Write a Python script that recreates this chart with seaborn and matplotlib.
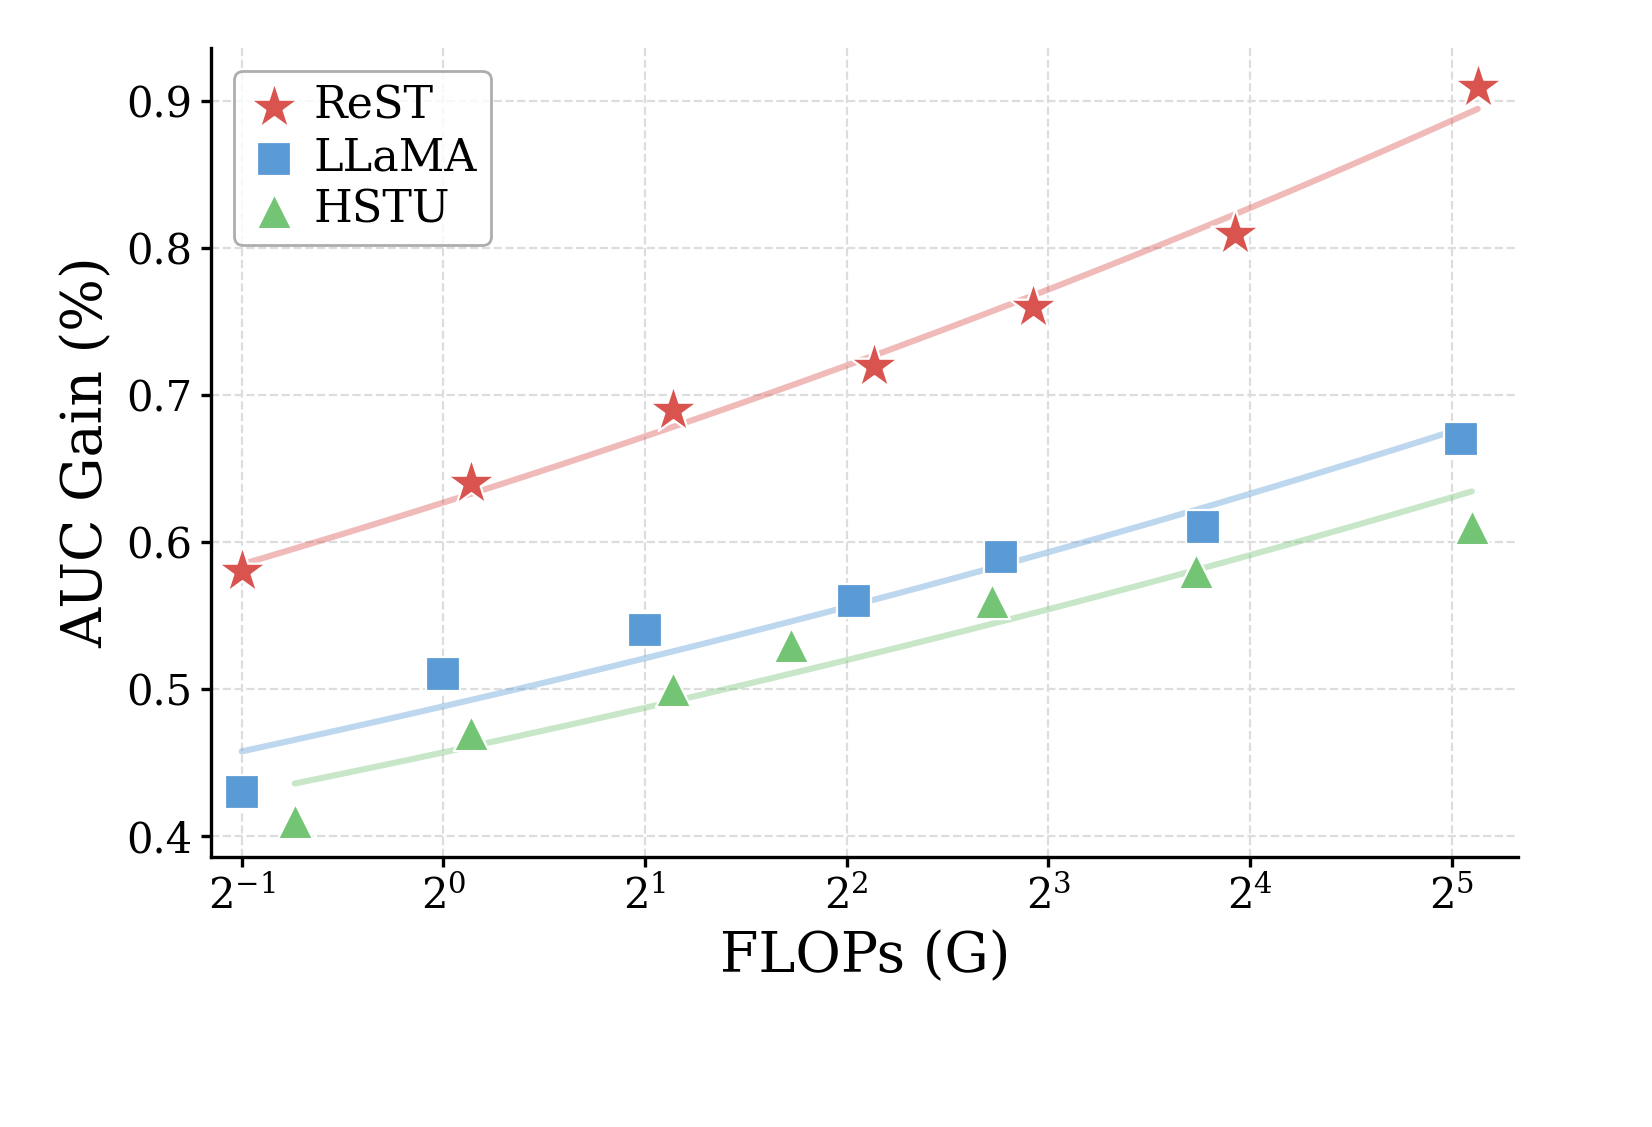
import numpy as np
import matplotlib
matplotlib.use("Agg")
import matplotlib.pyplot as plt
import seaborn as sns

sns.set_style("ticks")
plt.rcParams['font.family'] = ['DejaVu Serif']
plt.rcParams['mathtext.fontset'] = 'dejavuserif'
for k in ['text.color', 'axes.labelcolor', 'xtick.color', 'ytick.color', 'axes.edgecolor']:
    plt.rcParams[k] = 'black'

rest_flops = [0.5, 1.1, 2.2, 4.4, 7.6, 15.2, 35.0]
rest_auc = [0.58, 0.64, 0.69, 0.72, 0.76, 0.81, 0.91]
llama_flops = [0.5, 1.0, 2.0, 4.1, 6.8, 13.6, 33.0]
llama_auc = [0.43, 0.51, 0.54, 0.56, 0.59, 0.61, 0.67]
hstu_flops = [0.6, 1.1, 2.2, 3.3, 6.6, 13.3, 34.3]
hstu_auc = [0.41, 0.47, 0.50, 0.53, 0.56, 0.58, 0.61]

series = [
    ("ReST", rest_flops, rest_auc, "#D9534F", "*", 330),
    ("LLaMA", llama_flops, llama_auc, "#5B9BD5", "s", 150),
    ("HSTU", hstu_flops, hstu_auc, "#74C476", "^", 160),
]

fig, ax = plt.subplots(figsize=(8.26, 5.635), dpi=200)
for name, fx, fy, col, mk, s in series:
    # power-law fit: log y linear in log x
    lx = np.log(fx)
    b, a = np.polyfit(lx, np.log(fy), 1)
    xs = np.linspace(lx.min(), lx.max(), 100)
    ax.plot(np.exp(xs), np.exp(a + b * xs), color=col, alpha=0.4, lw=2.2, zorder=2)
    sns.scatterplot(x=fx, y=fy, ax=ax, marker=mk, s=s, color=col,
                    edgecolor="white", linewidth=0.8, label=name, zorder=3)

ax.set_xscale("log", base=2)
ax.set_xlim(2 ** -1.15, 2 ** 5.33)
ax.set_ylim(0.386, 0.936)
ax.set_xticks([2.0 ** k for k in range(-1, 6)])
ax.set_xticklabels([f"$2^{{{k}}}$" for k in range(-1, 6)])
ax.minorticks_off()
ax.set_yticks([0.4, 0.5, 0.6, 0.7, 0.8, 0.9])
ax.tick_params(labelsize=15, width=1.2)
for sp in ax.spines.values():
    sp.set_linewidth(1.2)
ax.set_xlabel("FLOPs (G)", fontsize=20)
ax.set_ylabel("AUC Gain (%)", fontsize=20)
ax.grid(True, ls="--", color="#dddddd", lw=0.8)
sns.despine(ax=ax)
leg = ax.legend(loc="upper left", fontsize=16, handletextpad=0.3,
                borderpad=0.3, labelspacing=0.2, handlelength=1.2)
leg.get_frame().set_edgecolor("#999999")
fig.subplots_adjust(left=0.128, right=0.919, top=0.957, bottom=0.24)
fig.savefig("out.png", dpi=200)
